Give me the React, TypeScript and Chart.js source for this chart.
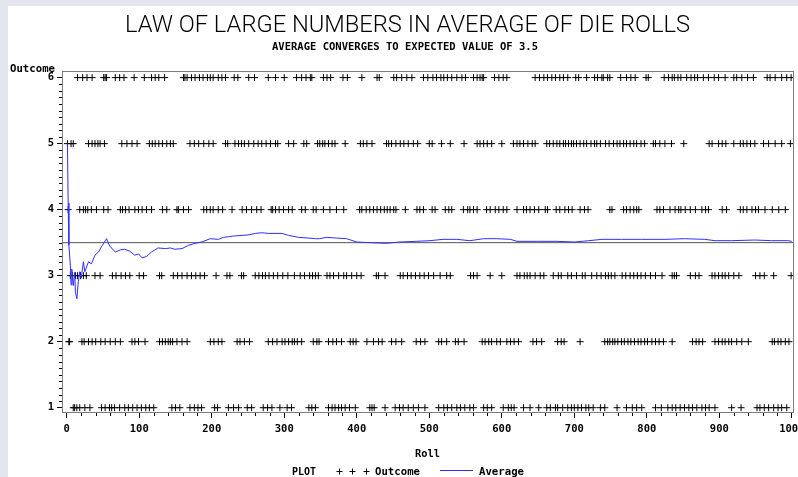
import React, { useEffect, useRef } from "react";
import { Chart, registerables } from "chart.js";

Chart.register(...registerables);

const chartTitle = "LAW OF LARGE NUMBERS IN AVERAGE OF DIE ROLLS";
const chartSubtitle = "AVERAGE CONVERGES TO EXPECTED VALUE OF 3.5";
const xAxisTitle = "Roll";
const yAxisTitle = "Outcome";
const legendHeading = "PLOT";
const outcomeLabel = "Outcome";
const averageLabel = "Average";

const xTickValues = [0, 100, 200, 300, 400, 500, 600, 700, 800, 900, 1000];
const yTickValues = [1, 2, 3, 4, 5, 6];
const expectedValue = 3.5;

const rollsWithOutcome6 = [
  15, 22, 28, 35, 51, 53, 55, 67, 73, 79, 93, 107, 117, 122, 127, 135, 161, 163, 166, 172, 177, 183, 188, 194,
  198, 202, 209, 214, 219, 231, 236, 251, 259, 278, 288, 300, 317, 324, 330, 336, 338, 354, 359, 364, 381, 387,
  407, 428, 431, 451, 455, 462, 469, 476, 492, 498, 505, 510, 516, 520, 525, 531, 538, 545, 550, 561, 566, 570,
  573, 575, 590, 596, 602, 607, 646, 652, 658, 663, 669, 674, 680, 685, 691, 702, 706, 717, 728, 732, 738, 740,
  746, 749, 764, 772, 778, 784, 799, 802, 824, 830, 835, 838, 843, 847, 855, 861, 866, 870, 878, 885, 893, 899,
  908, 920, 924, 931, 939, 947, 966, 970, 977, 986, 993, 999,
];
const rollsWithOutcome5 = [
  1, 6, 9, 30, 35, 39, 43, 46, 52, 76, 83, 90, 97, 114, 118, 122, 127, 132, 138, 143, 147, 170, 176, 182, 189,
  196, 202, 219, 222, 232, 237, 241, 245, 251, 258, 264, 269, 275, 281, 288, 291, 306, 313, 327, 331, 346, 349,
  353, 356, 361, 366, 370, 384, 405, 409, 414, 421, 441, 444, 448, 454, 460, 465, 471, 478, 484, 500, 504, 517,
  529, 548, 566, 570, 575, 580, 586, 600, 616, 621, 625, 630, 636, 642, 646, 662, 666, 671, 676, 680, 685, 688,
  692, 696, 699, 703, 708, 713, 717, 723, 728, 731, 736, 743, 748, 754, 759, 763, 768, 772, 777, 782, 786, 792,
  797, 809, 812, 818, 825, 834, 851, 886, 890, 899, 904, 909, 920, 929, 933, 938, 943, 949, 961, 968, 977, 986,
  998,
];
const rollsWithOutcome4 = [
  2, 18, 23, 26, 29, 34, 41, 51, 57, 74, 77, 81, 86, 94, 99, 104, 110, 117, 132, 138, 152, 154, 161, 168, 189,
  193, 198, 202, 209, 215, 228, 242, 248, 255, 262, 268, 282, 284, 288, 293, 299, 306, 311, 324, 329, 340, 344,
  354, 363, 372, 382, 404, 407, 413, 418, 423, 428, 433, 438, 442, 446, 451, 454, 467, 483, 487, 492, 504, 508,
  522, 527, 531, 547, 553, 556, 561, 566, 579, 584, 591, 596, 602, 607, 621, 630, 634, 639, 645, 651, 660, 663,
  675, 680, 687, 692, 697, 708, 714, 719, 749, 752, 768, 772, 777, 782, 786, 789, 814, 818, 823, 832, 839, 844,
  847, 853, 860, 867, 876, 881, 885, 904, 910, 929, 933, 938, 945, 950, 954, 963, 973, 982, 991,
];
const rollsWithOutcome3 = [
  5, 8, 12, 15, 19, 23, 27, 39, 46, 63, 68, 75, 81, 87, 100, 106, 128, 131, 147, 153, 159, 166, 172, 178, 184,
  190, 206, 221, 225, 241, 244, 260, 265, 270, 274, 279, 285, 291, 298, 305, 314, 322, 328, 335, 339, 343, 347,
  359, 363, 368, 375, 382, 386, 393, 400, 406, 427, 430, 439, 460, 464, 470, 475, 481, 487, 493, 499, 506, 515,
  524, 529, 557, 561, 566, 584, 600, 621, 625, 631, 635, 639, 646, 653, 658, 671, 678, 682, 691, 696, 703, 711,
  715, 724, 731, 737, 743, 747, 751, 756, 766, 771, 777, 782, 787, 792, 798, 805, 812, 821, 835, 838, 841, 860,
  867, 872, 890, 894, 899, 904, 908, 913, 920, 927, 950, 956, 962, 975, 999,
];
const rollsWithOutcome2 = [
  3, 4, 21, 24, 30, 35, 40, 47, 53, 60, 67, 74, 90, 94, 99, 108, 128, 132, 136, 140, 143, 146, 152, 159, 166,
  198, 203, 209, 214, 235, 239, 245, 252, 278, 284, 290, 297, 301, 306, 311, 314, 318, 324, 340, 345, 348, 361,
  367, 372, 379, 391, 395, 399, 414, 423, 430, 435, 448, 454, 462, 482, 488, 494, 513, 517, 524, 536, 540, 548,
  573, 577, 582, 586, 593, 598, 607, 612, 617, 623, 643, 648, 655, 677, 682, 686, 708, 742, 746, 749, 753, 756,
  760, 765, 769, 774, 778, 783, 788, 792, 797, 801, 807, 812, 817, 823, 835, 863, 868, 872, 877, 894, 899, 904,
  908, 913, 917, 924, 931, 940, 973, 976, 981, 985, 991, 996,
];
const rollsWithOutcome1 = [
  9, 11, 14, 18, 25, 32, 48, 53, 59, 62, 66, 73, 80, 85, 91, 97, 103, 109, 114, 120, 145, 150, 156, 170, 176,
  181, 186, 204, 208, 223, 230, 237, 249, 255, 271, 277, 283, 294, 304, 310, 334, 338, 343, 361, 366, 370, 375,
  379, 384, 390, 398, 418, 421, 424, 439, 453, 459, 464, 471, 478, 485, 494, 513, 520, 525, 531, 538, 543, 549,
  556, 561, 575, 580, 586, 602, 609, 613, 617, 630, 639, 651, 662, 667, 674, 677, 684, 691, 696, 700, 705, 710,
  716, 720, 726, 736, 742, 759, 772, 780, 786, 793, 812, 820, 829, 835, 840, 846, 852, 858, 863, 869, 876, 881,
  886, 894, 917, 930, 952, 956, 962, 968, 975, 981, 986, 993,
];

// Running average of the rolls
const averageRolls = [
  1, 2, 3, 5, 6, 7, 9, 11, 12, 14, 16, 18, 20, 23, 25, 30, 34, 39, 44, 48, 55, 58, 60, 65, 67, 74, 80, 87, 94,
  99, 104, 110, 117, 126, 136, 143, 149, 159, 168, 177, 186, 198, 209, 216, 223, 230, 242, 252, 260, 269, 278,
  297, 306, 320, 333, 343, 349, 358, 372, 386, 400, 418, 441, 459, 482, 501, 519, 538, 556, 575, 593, 612, 621,
  649, 676, 701, 720, 738, 765, 793, 825, 852, 880, 894, 917, 949, 972, 995, 1000,
];
const averageValues = [
  5.0, 4.1, 3.46, 3.16, 2.86, 3.1, 2.85, 3.05, 2.75, 2.65, 2.91, 3.06, 2.96, 3.21, 3.06, 3.21, 3.18, 3.31, 3.36,
  3.44, 3.56, 3.48, 3.44, 3.38, 3.36, 3.39, 3.4, 3.37, 3.31, 3.33, 3.27, 3.29, 3.36, 3.42, 3.41, 3.42, 3.4, 3.41,
  3.46, 3.49, 3.51, 3.56, 3.55, 3.58, 3.59, 3.6, 3.61, 3.62, 3.64, 3.65, 3.64, 3.64, 3.61, 3.58, 3.57, 3.56,
  3.56, 3.58, 3.57, 3.56, 3.51, 3.5, 3.49, 3.51, 3.52, 3.53, 3.55, 3.55, 3.53, 3.56, 3.56, 3.55, 3.52, 3.52,
  3.52, 3.51, 3.53, 3.55, 3.55, 3.55, 3.55, 3.56, 3.55, 3.53, 3.53, 3.54, 3.53, 3.53, 3.52,
];

const outcomeRows: [number, number[]][] = [
  [1, rollsWithOutcome1],
  [2, rollsWithOutcome2],
  [3, rollsWithOutcome3],
  [4, rollsWithOutcome4],
  [5, rollsWithOutcome5],
  [6, rollsWithOutcome6],
];

const MONO = "'DejaVu Sans Mono', 'Liberation Mono', monospace";
const SAS_FONT = `bold 10.5px ${MONO}`;

function fitText(
  ctx: CanvasRenderingContext2D,
  text: string,
  x: number,
  y: number,
  width: number,
  align: "left" | "center"
) {
  const w = ctx.measureText(text).width || 1;
  ctx.save();
  ctx.translate(x, y);
  ctx.scale(width / w, 1);
  ctx.textAlign = align;
  ctx.textBaseline = "alphabetic";
  ctx.fillText(text, 0, 0);
  ctx.restore();
}

const sasPlugin = {
  id: "sasDecor",
  beforeDraw(chart: any) {
    const ctx: CanvasRenderingContext2D = chart.ctx;
    ctx.save();
    ctx.fillStyle = "#e3e5ef";
    ctx.fillRect(0, 0, chart.width, chart.height);
    ctx.fillStyle = "#ffffff";
    ctx.fillRect(8, 6, chart.width - 8, chart.height - 6);
    ctx.restore();
  },
  afterDraw(chart: any) {
    const ctx: CanvasRenderingContext2D = chart.ctx;
    const { left, right, top, bottom } = chart.chartArea;
    const xs = chart.scales.x;
    const ys = chart.scales.y;
    ctx.save();
    // frame
    ctx.strokeStyle = "#7d7d7d";
    ctx.lineWidth = 1;
    ctx.strokeRect(left + 0.5, top + 0.5, right - left - 1, bottom - top - 1);
    // minor ticks
    ctx.strokeStyle = "#000";
    ctx.beginPath();
    for (let v = 20; v < 1000; v += 20) {
      if (v % 100 === 0) continue;
      const px = Math.round(xs.getPixelForValue(v)) + 0.5;
      ctx.moveTo(px, bottom);
      ctx.lineTo(px, bottom + 3);
    }
    for (let i = 10; i <= 60; i++) {
      if (i % 10 === 0) continue;
      const py = Math.round(ys.getPixelForValue(i / 10)) + 0.5;
      ctx.moveTo(left - 3, py);
      ctx.lineTo(left, py);
    }
    ctx.stroke();

    ctx.fillStyle = "#000";
    // title (thin sans)
    ctx.font = "300 24px Roboto, 'Liberation Sans', Arial, sans-serif";
    fitText(ctx, chartTitle, 407.5, 32, 565, "center");
    ctx.font = SAS_FONT;
    fitText(ctx, chartSubtitle, 405, 50, 266, "center");
    // axis titles
    fitText(ctx, yAxisTitle, 10, 71.5, 45, "left");
    fitText(ctx, xAxisTitle, 427.5, 457, 25, "center");
    // legend
    const ds = chart.data.datasets;
    fitText(ctx, legendHeading, 292, 475, 24, "left");
    ctx.strokeStyle = ds[0].borderColor;
    ctx.lineWidth = 1;
    ctx.beginPath();
    [339.5, 352.5, 366.5].forEach((cx) => {
      ctx.moveTo(cx - 3, 471.5);
      ctx.lineTo(cx + 3, 471.5);
      ctx.moveTo(cx, 468.5);
      ctx.lineTo(cx, 474.5);
    });
    ctx.stroke();
    fitText(ctx, ds[0].label, 375, 475, 45, "left");
    ctx.strokeStyle = ds[1].borderColor;
    ctx.beginPath();
    ctx.moveTo(440, 470.5);
    ctx.lineTo(473, 470.5);
    ctx.stroke();
    fitText(ctx, ds[1].label, 479, 475, 45, "left");
    ctx.restore();
  },
};

export default function App() {
  const canvasRef = useRef<HTMLCanvasElement | null>(null);

  useEffect(() => {
    if (!canvasRef.current) return;
    const outcomePoints = outcomeRows.flatMap(([outcome, rolls]) =>
      rolls.map((r) => ({ x: r, y: outcome }))
    );
    const averagePoints = averageRolls.map((r, i) => ({ x: r, y: averageValues[i] }));
    const xMin = -6.5;
    const xMax = 1003;
    const referencePoints = [
      { x: xMin, y: expectedValue },
      { x: xMax, y: expectedValue },
    ];

    const tickFont = { family: MONO, weight: "bold" as const, size: 10.5 };

    const chart = new Chart(canvasRef.current, {
      type: "scatter",
      data: {
        datasets: [
          {
            label: outcomeLabel,
            data: outcomePoints,
            pointStyle: "cross",
            radius: 3.5,
            borderColor: "#000000",
            backgroundColor: "#000000",
            borderWidth: 1,
            showLine: false,
            order: 2,
          } as any,
          {
            label: averageLabel,
            data: averagePoints,
            showLine: true,
            borderColor: "#2f2fff",
            borderWidth: 1,
            pointRadius: 0,
            tension: 0,
            fill: false,
            order: 1,
          } as any,
          {
            label: "Expected value",
            data: referencePoints,
            showLine: true,
            borderColor: "#555555",
            borderWidth: 1,
            pointRadius: 0,
            fill: false,
            order: 3,
          } as any,
        ],
      },
      options: {
        responsive: false,
        animation: false,
        devicePixelRatio: 1,
        layout: { autoPadding: false, padding: { top: 71, right: 4, bottom: 34, left: 0 } },
        plugins: {
          legend: { display: false },
          tooltip: { enabled: false },
          title: { display: false },
        },
        scales: {
          x: {
            type: "linear",
            min: xMin,
            max: xMax,
            afterBuildTicks: (s: any) => {
              s.ticks = xTickValues.map((v) => ({ value: v }));
            },
            afterFit: (s: any) => {
              s.height = 30;
              s.paddingLeft = 0;
              s.paddingRight = 0;
            },
            grid: { drawOnChartArea: false, drawTicks: true, tickLength: 5, tickColor: "#000", color: "#000" },
            border: { display: false },
            ticks: {
              font: tickFont,
              color: "#000",
              padding: 5,
              maxRotation: 0,
              autoSkip: false,
              callback: (v: any) => String(v),
            },
          },
          y: {
            type: "linear",
            min: 0.92,
            max: 6.1,
            afterBuildTicks: (s: any) => {
              s.ticks = yTickValues.map((v) => ({ value: v }));
            },
            afterFit: (s: any) => {
              s.width = 62;
              s.paddingTop = 0;
              s.paddingBottom = 0;
            },
            grid: { drawOnChartArea: false, drawTicks: true, tickLength: 5, tickColor: "#000", color: "#000" },
            border: { display: false },
            ticks: {
              font: tickFont,
              color: "#000",
              padding: 3,
              autoSkip: false,
              callback: (v: any) => String(v),
            },
          },
        },
      },
      plugins: [sasPlugin],
    });
    return () => chart.destroy();
  }, []);

  return (
    <div style={{ position: "absolute", left: 0, top: 0, width: 798, height: 477, overflow: "hidden" }}>
      <canvas ref={canvasRef} width={798} height={477} style={{ display: "block", width: 798, height: 477 }} />
    </div>
  );
}
